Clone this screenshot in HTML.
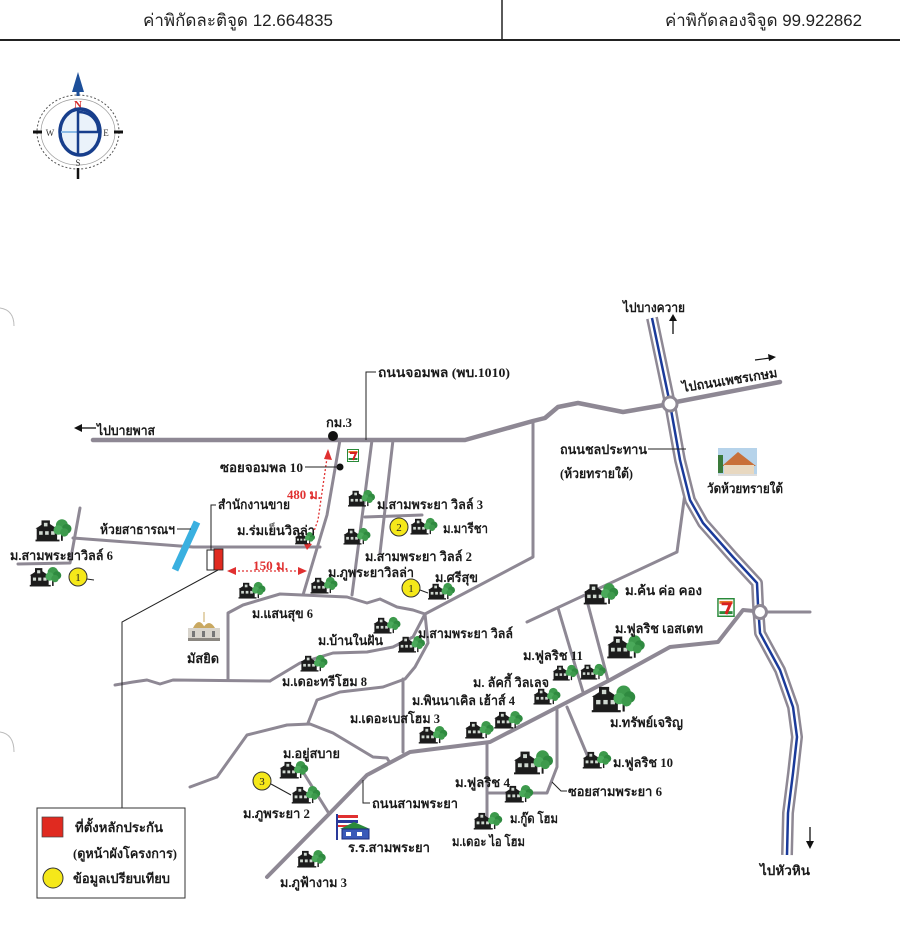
<!DOCTYPE html>
<html><head><meta charset="utf-8"><style>
html,body{margin:0;padding:0;background:#fff;}
svg{display:block;}
.l{font-family:"Liberation Serif","DejaVu Serif",serif;font-weight:bold;font-size:13px;fill:#1a1a1a;}
.h{font-family:"Liberation Sans","DejaVu Sans",sans-serif;font-size:17px;fill:#222;}
.r{stroke:#8e8894;fill:none;stroke-linejoin:round;stroke-linecap:round;}
</style></head><body>
<svg width="900" height="942" viewBox="0 0 900 942" xmlns="http://www.w3.org/2000/svg">
<defs>
<symbol id="hs" viewBox="0 0 30 20">
<rect x="1" y="8" width="17" height="11" fill="#1c1c1c"/>
<polygon points="0,9 9,3 18,9" fill="#1c1c1c"/>
<rect x="5" y="2" width="7" height="7" fill="#1c1c1c"/>
<rect x="3" y="11" width="3" height="3" fill="#cfd8d0"/>
<rect x="8" y="11" width="3" height="3" fill="#cfd8d0"/>
<rect x="13" y="11" width="3" height="3" fill="#cfd8d0"/>
<rect x="7" y="4" width="3" height="3" fill="#cfd8d0"/>
<rect x="0" y="18" width="20" height="1.5" fill="#1c1c1c"/>
<line x1="22" y1="10" x2="22" y2="19" stroke="#1c1c1c" stroke-width="1.5"/>
<circle cx="22" cy="6" r="5" fill="#3d9a4c"/>
<circle cx="26" cy="9" r="4" fill="#2f8a40"/>
<circle cx="19" cy="10" r="4" fill="#4aa95a"/>
<circle cx="24" cy="12" r="3.5" fill="#3d9a4c"/>
</symbol>
<symbol id="s7" viewBox="0 0 12 13">
<rect x="0.5" y="0.5" width="11" height="12" fill="#fff" stroke="#2a8a3a" stroke-width="1"/>
<rect x="1.5" y="2" width="9" height="2" fill="#e8772a"/>
<rect x="1.5" y="9" width="9" height="2" fill="#2a8a3a"/>
<path d="M3,4 L9,4 L6,11" stroke="#d82020" stroke-width="2" fill="none"/>
</symbol>
</defs>

<!-- header -->
<line x1="0" y1="40" x2="900" y2="40" stroke="#222" stroke-width="2"/>
<line x1="502" y1="0" x2="502" y2="40" stroke="#222" stroke-width="1.5"/>
<text class="h" x="143" y="26" textLength="190" lengthAdjust="spacingAndGlyphs">ค่าพิกัดละติจูด 12.664835</text>
<text class="h" x="665" y="26" textLength="197" lengthAdjust="spacingAndGlyphs">ค่าพิกัดลองจิจูด 99.922862</text>

<!-- compass -->
<g>
<ellipse cx="78" cy="132" rx="41" ry="37" fill="none" stroke="#555" stroke-width="1" stroke-dasharray="2,2"/>
<ellipse cx="78" cy="132" rx="37" ry="33" fill="none" stroke="#999" stroke-width="0.7"/>
<line x1="33" y1="132" x2="42" y2="132" stroke="#111" stroke-width="3"/>
<line x1="114" y1="132" x2="123" y2="132" stroke="#111" stroke-width="3"/>
<line x1="78" y1="168" x2="78" y2="179" stroke="#111" stroke-width="2.5"/>
<polygon points="78,72 72,92 84,92" fill="#1d4f9a"/>
<line x1="78" y1="90" x2="78" y2="96" stroke="#1d4f9a" stroke-width="3"/>
<text x="78" y="108" font-family="Liberation Serif,serif" font-size="11" font-weight="bold" fill="#d42a2a" text-anchor="middle">N</text>
<text x="50" y="136" font-family="Liberation Serif,serif" font-size="9" fill="#333" text-anchor="middle">W</text>
<text x="106" y="136" font-family="Liberation Serif,serif" font-size="9" fill="#333" text-anchor="middle">E</text>
<text x="78" y="166" font-family="Liberation Serif,serif" font-size="9" fill="#333" text-anchor="middle">S</text>
<ellipse cx="80" cy="132" rx="20" ry="23" fill="#eaf2fa" stroke="#9ec4e6" stroke-width="1.5"/>
<ellipse cx="80" cy="132" rx="20" ry="23" fill="none" stroke="#173e8c" stroke-width="3.5"/>
<line x1="61" y1="132" x2="99" y2="132" stroke="#8cbbe6" stroke-width="2"/>
<line x1="78" y1="110" x2="78" y2="155" stroke="#173e8c" stroke-width="2.5"/>
<path d="M78,112 C92,112 99,122 98,132 L78,132" fill="none" stroke="#173e8c" stroke-width="2.5"/>
</g>

<!-- scan artifacts -->
<path d="M0,308 Q14,310 14,326" fill="none" stroke="#bbb" stroke-width="1"/>
<path d="M0,732 Q14,734 14,752" fill="none" stroke="#bbb" stroke-width="1"/>

<!-- main road -->
<path class="r" stroke-width="4.5" d="M93,440 L465,440 L533,421 L545,418 L558,407 L578,403 L623,412 L664,405"/>
<path class="r" stroke-width="4.5" d="M676,402 L780,382"/>

<!-- roads center -->
<g class="r" stroke-width="3">
<path d="M533,421 L533,557 L425,614"/>
<path d="M685,493 L677,552 L527,622"/>
<path d="M558,608 L583,692"/>
<path d="M586,597 L608,680"/>
<path d="M340,440 L327,515 L303,595"/>
<path d="M372,440 L352,595"/>
<path d="M393,440 L380,553"/>
<path d="M365,517 L422,515"/>
<path d="M228,680 L228,613 L243,605 L280,594 L347,597 L367,603 L380,599 L397,607 L413,610 L425,614 L428,643 L415,667 L405,679 L383,687 L340,692 L317,700 L308,723"/>
<path d="M425,614 L413,637 L393,647 L367,652 L333,653 L300,663 L270,681"/>
<path d="M115,685 L133,682 L147,680 L160,684 L173,680 L270,681"/>
<path d="M403,679 L403,752"/>
<path d="M190,787 L217,777 L247,735 L287,725 L310,724 L333,733 L373,757 L387,758 L390,763"/>
<path d="M303,772 L328,812"/>
<path d="M557,710 L557,767 L547,793 L487,793"/>
<path d="M487,742 L487,820"/>
<path d="M567,707 L588,757"/>
<path d="M73,538 L193,547 L320,547"/>
<path d="M80,508 L70,563 L18,564"/>
<path d="M766,612 L810,612"/>
</g>
<!-- ถนนสามพระยา -->
<path class="r" stroke-width="4" d="M754,611 L743,610 L718,642 L670,647 L610,680 L490,742 L410,752 L367,775 L330,813 L267,877"/>

<!-- canal road -->
<g fill="none" stroke-linejoin="round">
<path d="M652,318 L670,404 L680,460 L690,500 L703,523 L733,557 L757,583 L758,605 L760,633 L780,670 L793,707 L797,737 L793,773 L788,813 L787,855" stroke="#8e8894" stroke-width="12"/>
<path d="M652,318 L670,404 L680,460 L690,500 L703,523 L733,557 L757,583 L758,605 L760,633 L780,670 L793,707 L797,737 L793,773 L788,813 L787,855" stroke="#fff" stroke-width="7"/>
<path d="M652,318 L670,404 L680,460 L690,500 L703,523 L733,557 L757,583 L758,605 L760,633 L780,670 L793,707 L797,737 L793,773 L788,813 L787,855" stroke="#1a3a9a" stroke-width="2.5"/>
</g>
<circle cx="670" cy="404" r="7" fill="#fff" stroke="#8e8894" stroke-width="3"/>
<circle cx="760" cy="612" r="6.5" fill="#fff" stroke="#8e8894" stroke-width="3"/>

<!-- blue canal bar -->
<line x1="175" y1="570" x2="197" y2="522" stroke="#3ab0e0" stroke-width="7"/>

<!-- plot rectangles -->
<rect x="207" y="550" width="7" height="20" fill="#fff" stroke="#222" stroke-width="1"/>
<rect x="214" y="549" width="9" height="21" fill="#e02a20" stroke="#222" stroke-width="0.8"/>
<path d="M211,550 L211,505 L216,505" fill="none" stroke="#222" stroke-width="1"/>
<path d="M218,570 L122,622 L122,808" fill="none" stroke="#222" stroke-width="1"/>

<!-- red measures -->
<g stroke="#e03030" stroke-width="1.3" fill="none" stroke-dasharray="2,2">
<line x1="234" y1="571" x2="300" y2="571"/>
<path d="M309,545 L318,520 L327,458"/>
</g>
<polygon points="227,571 236,567 236,575" fill="#e03030"/>
<polygon points="307,571 298,567 298,575" fill="#e03030"/>
<polygon points="328,449 324,459 332,460" fill="#e03030"/>
<polygon points="307,550 303,542 312,544" fill="#e03030"/>

<!-- dots -->
<circle cx="333" cy="436" r="5" fill="#111"/>
<circle cx="340" cy="467" r="3.5" fill="#111"/>
<line x1="305" y1="467" x2="340" y2="467" stroke="#222" stroke-width="1"/>
<path d="M366,440 L366,372 L376,372" fill="none" stroke="#222" stroke-width="1"/>
<line x1="177" y1="529" x2="191" y2="529" stroke="#222" stroke-width="1"/>
<line x1="648" y1="449" x2="686" y2="449" stroke="#222" stroke-width="1"/>
<path d="M363,780 L363,803 L370,803" fill="none" stroke="#222" stroke-width="1"/>
<path d="M552,782 L561,791 L567,791" fill="none" stroke="#222" stroke-width="1"/>

<!-- arrows -->
<line x1="80" y1="428" x2="96" y2="428" stroke="#111" stroke-width="1.3"/>
<polygon points="74,428 82,424 82,432" fill="#111"/>
<line x1="673" y1="320" x2="673" y2="334" stroke="#111" stroke-width="1.3"/>
<polygon points="673,314 669,321 677,321" fill="#111"/>
<line x1="755" y1="360" x2="770" y2="358" stroke="#111" stroke-width="1.2"/>
<polygon points="776,357 768,354 769,361" fill="#111"/>
<line x1="810" y1="827" x2="810" y2="842" stroke="#111" stroke-width="1.3"/>
<polygon points="810,849 806,841 814,841" fill="#111"/>

<!-- 7-eleven -->
<use href="#s7" x="347" y="449" width="12" height="13"/>
<use href="#s7" x="717" y="598" width="18" height="19"/>

<!-- houses -->
<use href="#hs" x="35" y="518" width="37" height="24"/>
<use href="#hs" x="28" y="566" width="35" height="21"/>
<use href="#hs" x="295" y="531" width="20" height="14"/>
<use href="#hs" x="347" y="489" width="29" height="18"/>
<use href="#hs" x="343" y="527" width="28" height="18"/>
<use href="#hs" x="410" y="517" width="28" height="18"/>
<use href="#hs" x="238" y="581" width="28" height="18"/>
<use href="#hs" x="310" y="576" width="28" height="18"/>
<use href="#hs" x="427" y="582" width="29" height="18"/>
<use href="#hs" x="373" y="616" width="28" height="18"/>
<use href="#hs" x="398" y="635" width="27" height="18"/>
<use href="#hs" x="300" y="654" width="28" height="18"/>
<use href="#hs" x="417" y="725" width="32" height="19"/>
<use href="#hs" x="463" y="720" width="33" height="19"/>
<use href="#hs" x="492" y="710" width="33" height="19"/>
<use href="#hs" x="533" y="687" width="28" height="18"/>
<use href="#hs" x="552" y="664" width="27" height="17"/>
<use href="#hs" x="579" y="663" width="28" height="17"/>
<use href="#hs" x="582" y="582" width="38" height="23"/>
<use href="#hs" x="607" y="634" width="38" height="25"/>
<use href="#hs" x="590" y="684" width="47" height="29"/>
<use href="#hs" x="582" y="750" width="30" height="19"/>
<use href="#hs" x="512" y="749" width="43" height="26"/>
<use href="#hs" x="503" y="784" width="32" height="19"/>
<use href="#hs" x="472" y="811" width="32" height="19"/>
<use href="#hs" x="278" y="760" width="32" height="19"/>
<use href="#hs" x="290" y="785" width="32" height="19"/>
<use href="#hs" x="295" y="849" width="33" height="19"/>

<!-- yellow circles -->
<g fill="#f5e81a" stroke="#333" stroke-width="1">
<circle cx="78" cy="577" r="9"/>
<circle cx="399" cy="527" r="9"/>
<circle cx="411" cy="588" r="9"/>
<circle cx="262" cy="781" r="9"/>
</g>
<g font-family="Liberation Serif,serif" font-size="11" fill="#222" text-anchor="middle">
<text x="78" y="581">1</text><text x="399" y="531">2</text><text x="411" y="592">1</text><text x="262" y="785">3</text>
</g>
<line x1="87" y1="579" x2="94" y2="580" stroke="#222" stroke-width="1"/>
<line x1="420" y1="590" x2="428" y2="593" stroke="#222" stroke-width="1"/>
<line x1="271" y1="784" x2="291" y2="795" stroke="#222" stroke-width="1"/>

<!-- mosque -->
<g>
<rect x="188" y="628" width="32" height="12" fill="#d8d4cc"/>
<rect x="188" y="638" width="32" height="3" fill="#8a8680"/>
<path d="M193,628 Q199,616 205,628 Z" fill="#c9a860"/>
<path d="M203,628 Q209,618 215,628 Z" fill="#c9a860"/>
<line x1="204" y1="612" x2="204" y2="622" stroke="#c9a860" stroke-width="1"/>
<rect x="192" y="631" width="3" height="6" fill="#777"/>
<rect x="202" y="631" width="3" height="6" fill="#777"/>
<rect x="212" y="631" width="3" height="6" fill="#777"/>
</g>

<!-- temple -->
<g>
<rect x="718" y="448" width="39" height="28" fill="#b6d3ea"/>
<polygon points="722,466 738,452 756,466" fill="#c8703a"/>
<rect x="724" y="465" width="30" height="9" fill="#e8d8c0"/>
<rect x="718" y="455" width="5" height="18" fill="#3a7a3a"/>
<rect x="718" y="474" width="39" height="2" fill="#ddd"/>
</g>

<!-- school -->
<g>
<rect x="336" y="814" width="2" height="26" fill="#2a3a9a"/>
<rect x="338" y="815" width="20" height="3" fill="#e03030"/>
<rect x="338" y="818" width="20" height="2" fill="#fff"/>
<rect x="338" y="820" width="20" height="3" fill="#2a3a9a"/>
<rect x="338" y="823" width="20" height="2" fill="#fff"/>
<rect x="338" y="825" width="20" height="2" fill="#e03030"/>
<polygon points="340,829 354,822 370,829" fill="#2a8a3a"/>
<rect x="342" y="829" width="27" height="10" fill="#3a5ab8" stroke="#1a2a7a" stroke-width="1"/>
<rect x="346" y="832" width="5" height="4" fill="#fff"/>
<rect x="357" y="832" width="5" height="4" fill="#fff"/>
</g>

<!-- legend -->
<rect x="37" y="808" width="148" height="90" fill="#fff" stroke="#333" stroke-width="1"/>
<rect x="42" y="817" width="21" height="20" fill="#e02a20" stroke="#444" stroke-width="0.7"/>
<circle cx="53" cy="878" r="10" fill="#f5e81a" stroke="#333" stroke-width="1"/>
<text class="l" x="75" y="832" textLength="88" lengthAdjust="spacingAndGlyphs">ที่ตั้งหลักประกัน</text>
<text class="l" x="73" y="858" textLength="104" lengthAdjust="spacingAndGlyphs">(ดูหน้าผังโครงการ)</text>
<text class="l" x="73" y="883" textLength="97" lengthAdjust="spacingAndGlyphs">ข้อมูลเปรียบเทียบ</text>

<!-- labels -->
<text class="l" x="97" y="435" textLength="58" lengthAdjust="spacingAndGlyphs">ไปบายพาส</text>
<text class="l" x="326" y="427" textLength="26" lengthAdjust="spacingAndGlyphs">กม.3</text>
<text class="l" x="378" y="377" textLength="132" lengthAdjust="spacingAndGlyphs">ถนนจอมพล (พบ.1010)</text>
<text class="l" x="220" y="472" textLength="83" lengthAdjust="spacingAndGlyphs">ซอยจอมพล 10</text>
<text class="l" x="287" y="499" textLength="34" lengthAdjust="spacingAndGlyphs" style="fill:#e03030">480 ม.</text>
<text class="l" x="218" y="509" textLength="72" lengthAdjust="spacingAndGlyphs">สำนักงานขาย</text>
<text class="l" x="100" y="534" textLength="75" lengthAdjust="spacingAndGlyphs">ห้วยสาธารณฯ</text>
<text class="l" x="237" y="535" textLength="78" lengthAdjust="spacingAndGlyphs">ม.ร่มเย็นวิลล่า</text>
<text class="l" x="10" y="560" textLength="103" lengthAdjust="spacingAndGlyphs">ม.สามพระยาวิลล์ 6</text>
<text class="l" x="253" y="570" textLength="35" lengthAdjust="spacingAndGlyphs" style="fill:#e03030">150 ม.</text>
<text class="l" x="377" y="509" textLength="106" lengthAdjust="spacingAndGlyphs">ม.สามพระยา วิลล์ 3</text>
<text class="l" x="443" y="533" textLength="45" lengthAdjust="spacingAndGlyphs">ม.มารีชา</text>
<text class="l" x="365" y="561" textLength="107" lengthAdjust="spacingAndGlyphs">ม.สามพระยา วิลล์ 2</text>
<text class="l" x="328" y="577" textLength="86" lengthAdjust="spacingAndGlyphs">ม.ภูพระยาวิลล่า</text>
<text class="l" x="435" y="582" textLength="43" lengthAdjust="spacingAndGlyphs">ม.ศรีสุข</text>
<text class="l" x="252" y="618" textLength="61" lengthAdjust="spacingAndGlyphs">ม.แสนสุข 6</text>
<text class="l" x="187" y="663" textLength="32" lengthAdjust="spacingAndGlyphs">มัสยิด</text>
<text class="l" x="318" y="645" textLength="65" lengthAdjust="spacingAndGlyphs">ม.บ้านในฝัน</text>
<text class="l" x="418" y="638" textLength="95" lengthAdjust="spacingAndGlyphs">ม.สามพระยา วิลล์</text>
<text class="l" x="282" y="686" textLength="85" lengthAdjust="spacingAndGlyphs">ม.เดอะทรีโฮม 8</text>
<text class="l" x="473" y="687" textLength="76" lengthAdjust="spacingAndGlyphs">ม. ลัคกี้ วิลเลจ</text>
<text class="l" x="523" y="660" textLength="60" lengthAdjust="spacingAndGlyphs">ม.ฟูลริช 11</text>
<text class="l" x="412" y="705" textLength="103" lengthAdjust="spacingAndGlyphs">ม.พินนาเคิล เฮ้าส์ 4</text>
<text class="l" x="350" y="723" textLength="90" lengthAdjust="spacingAndGlyphs">ม.เดอะเบสโฮม 3</text>
<text class="l" x="625" y="595" textLength="77" lengthAdjust="spacingAndGlyphs">ม.ค้น ค่อ คอง</text>
<text class="l" x="615" y="633" textLength="88" lengthAdjust="spacingAndGlyphs">ม.ฟูลริช เอสเตท</text>
<text class="l" x="610" y="727" textLength="73" lengthAdjust="spacingAndGlyphs">ม.ทรัพย์เจริญ</text>
<text class="l" x="613" y="767" textLength="60" lengthAdjust="spacingAndGlyphs">ม.ฟูลริช 10</text>
<text class="l" x="568" y="796" textLength="94" lengthAdjust="spacingAndGlyphs">ซอยสามพระยา 6</text>
<text class="l" x="455" y="787" textLength="55" lengthAdjust="spacingAndGlyphs">ม.ฟูลริช 4</text>
<text class="l" x="510" y="823" textLength="48" lengthAdjust="spacingAndGlyphs">ม.กู๊ด โฮม</text>
<text class="l" x="452" y="846" textLength="73" lengthAdjust="spacingAndGlyphs">ม.เดอะ ไอ โฮม</text>
<text class="l" x="372" y="808" textLength="86" lengthAdjust="spacingAndGlyphs">ถนนสามพระยา</text>
<text class="l" x="348" y="852" textLength="82" lengthAdjust="spacingAndGlyphs">ร.ร.สามพระยา</text>
<text class="l" x="283" y="758" textLength="57" lengthAdjust="spacingAndGlyphs">ม.อยู่สบาย</text>
<text class="l" x="243" y="818" textLength="67" lengthAdjust="spacingAndGlyphs">ม.ภูพระยา 2</text>
<text class="l" x="280" y="887" textLength="67" lengthAdjust="spacingAndGlyphs">ม.ภูฟ้างาม 3</text>
<text class="l" x="623" y="312" textLength="62" lengthAdjust="spacingAndGlyphs">ไปบางควาย</text>
<text class="l" x="683" y="392" textLength="96" lengthAdjust="spacingAndGlyphs" transform="rotate(-9 683 392)">ไปถนนเพชรเกษม</text>
<text class="l" x="560" y="454" textLength="87" lengthAdjust="spacingAndGlyphs">ถนนชลประทาน</text>
<text class="l" x="560" y="478" textLength="73" lengthAdjust="spacingAndGlyphs">(ห้วยทรายใต้)</text>
<text class="l" x="707" y="493" textLength="76" lengthAdjust="spacingAndGlyphs">วัดห้วยทรายใต้</text>
<text class="l" x="760" y="875" textLength="50" lengthAdjust="spacingAndGlyphs">ไปหัวหิน</text>
</svg>
</body></html>
